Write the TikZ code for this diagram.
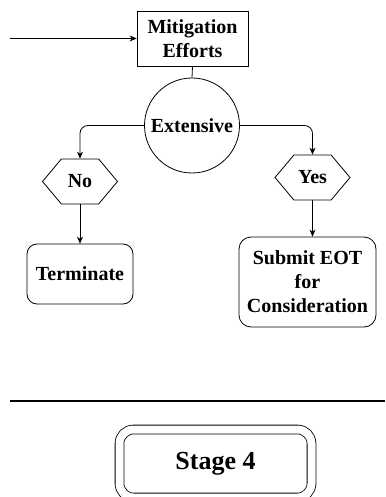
\documentclass[tikz,border=0pt]{standalone}
\usepackage{fontspec}
\setmainfont{Liberation Serif}
\usepackage{tikz}
\usetikzlibrary{shapes,arrows.meta,positioning,calc}

\tikzset{
    flowtext/.style={font=\fontsize{20}{24}\selectfont\bfseries, align=center},
    stepbox/.style={flowtext, draw, line width=0.8pt, inner sep=0pt},
    answer/.style={flowtext, draw, line width=0.8pt, signal, signal to=east and west,
        signal pointer angle=100, minimum width=75pt, minimum height=45pt, inner sep=0pt},
    arrowline/.style={line width=0.8pt, -{Stealth[length=7pt,width=6pt]}}
}

\begin{document}
\begin{tikzpicture}[x=1pt, y=-1pt]
    \useasboundingbox (0,0) rectangle (385,497);

    % Decision
    \node[stepbox, minimum width=111pt, minimum height=55pt] (mit) at (192.5,38.5) {Mitigation\\Efforts};
    \node[stepbox, circle, minimum size=95pt] (ext) at (192,125.5) {Extensive};

    % Answers
    \node[answer] (no) at (80,181.5) {No};
    \node[answer] (yes) at (312.5,177.5) {Yes};

    % Outcomes
    \node[stepbox, rounded corners=10pt, minimum width=106pt, minimum height=60pt] (term) at (80,274) {Terminate};
    \node[stepbox, rounded corners=12pt, minimum width=137pt, minimum height=90pt] (sub) at (307.5,282) {Submit EOT\\for\\Consideration};

    % Connectors
    \coordinate (in) at (10,38.5);
    \draw[arrowline] (in) -- (mit.west);
    \draw[line width=0.8pt] (mit.south) -- (ext.north);
    \draw[arrowline, rounded corners=8pt] (ext.west) -| (no.north);
    \draw[arrowline, rounded corners=8pt] (ext.east) -| (yes.north);
    \draw[arrowline] (no.south) -- (term.north);
    \draw[arrowline] (yes.south) -- (yes.south |- sub.north);

    % Separator and stage label
    \coordinate (rulel) at (10,401);
    \coordinate (ruler) at (385,401);
    \draw[line width=1.6pt] (rulel) -- (ruler);
    \node[draw, double, double distance=8pt, line width=0.8pt, rounded corners=14pt,
        minimum width=192pt, minimum height=68pt, font=\fontsize{26}{30}\selectfont\bfseries] (stage) at (215.5,463.5) {Stage 4};
\end{tikzpicture}
\end{document}
